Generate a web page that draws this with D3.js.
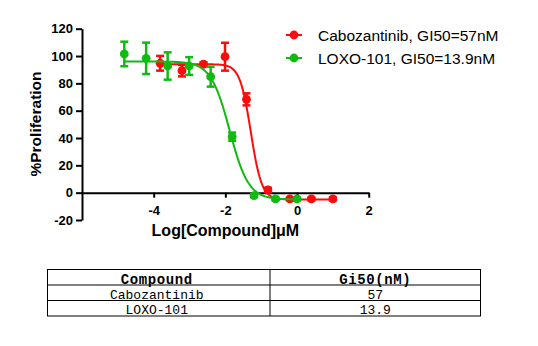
<!DOCTYPE html>
<html><head><meta charset="utf-8">
<script src="https://cdn.jsdelivr.net/npm/d3@7"></script>
<style>body{margin:0;background:#fff}svg{display:block}</style>
</head><body><svg id="c" width="538" height="346"></svg>
<script>
// ---- data ----
const redName = "Cabozantinib, GI50=57nM";
const greenName = "LOXO-101, GI50=13.9nM";
const redX = [-3.82, -3.21, -2.61, -2.01, -1.41, -0.81, -0.20, 0.40, 1.00];
const redY = [94.7, 89.3, 94.0, 99.5, 68.3, 2.0, -4.6, -4.6, -4.6];
const redErr = [5.4, 4.2, 1.5, 10.2, 4.4, 1.5, 1.0, 1.0, 1.0];
const greenX = [-4.82, -4.21, -3.61, -3.01, -2.41, -1.81, -1.20, -0.60, 0.00];
const greenY = [101.5, 98.3, 92.7, 92.7, 84.9, 41.0, -2.2, -4.6, -4.6];
const greenErr = [9.0, 11.5, 10.0, 6.5, 7.3, 3.0, 1.0, 1.0, 1.0];
// fitted 4-parameter curves: [top, bottom, logGI50, hill]
const redFit = [94, -5, -1.29, 2.85];
const greenFit = [96, -5, -1.88, 1.65];
const xTicks = [-4, -2, 0, 2];
const yTicks = [-20, 0, 20, 40, 60, 80, 100, 120];
const tableHeader = ["Compound", "Gi50(nM)"];
const tableCompounds = ["Cabozantinib", "LOXO-101"];
const tableGi50 = ["57", "13.9"];

const svg = d3.select("#c");
const x = d3.scaleLinear().domain([-6, 2]).range([82, 368.7]);
const y = d3.scaleLinear().domain([-20, 120]).range([220, 28.7]);
const font = "'Liberation Sans', Arial, sans-serif";

// axes
const gx = svg.append("g").attr("transform", `translate(0,${y(0)})`)
  .call(d3.axisBottom(x).tickValues(xTicks).tickFormat(d => String(d)).tickSize(5).tickSizeOuter(0).tickPadding(8));
const gy = svg.append("g").attr("transform", `translate(${x(-6)},0)`)
  .call(d3.axisLeft(y).tickValues(yTicks).tickFormat(d => String(d)).tickSize(6).tickSizeOuter(0).tickPadding(3));
[gx, gy].forEach(g => {
  g.select(".domain").attr("stroke", "#000").attr("stroke-width", 2);
  g.selectAll(".tick line").attr("stroke", "#000").attr("stroke-width", 2);
  g.selectAll(".tick text").attr("font-family", font).attr("font-weight", "bold").attr("font-size", 13).attr("fill", "#000");
});

svg.append("text").attr("x", x(-2)).attr("y", 236).attr("text-anchor", "middle")
  .attr("font-family", font).attr("font-weight", "bold").attr("font-size", 16).text("Log[Compound]μM");
svg.append("text").attr("transform", "translate(41,124) rotate(-90)").attr("text-anchor", "middle")
  .attr("font-family", font).attr("font-weight", "bold").attr("font-size", 15.5).text("%Proliferation");

function drawSeries(xs, ys, es, fit, color) {
  const [top, bot, lc, h] = fit;
  const f = v => bot + (top - bot) / (1 + Math.pow(10, (v - lc) * h));
  const x0 = d3.min(xs), x1 = d3.max(xs);
  const pts = d3.range(0, 201).map(i => x0 + (x1 - x0) * i / 200);
  svg.append("path").datum(pts).attr("fill", "none").attr("stroke", color).attr("stroke-width", 2)
    .attr("d", d3.line().x(v => x(v)).y(v => y(f(v))));
  const g = svg.append("g").attr("stroke", color).attr("stroke-width", 2.5);
  xs.forEach((v, i) => {
    const cx = x(v), t = y(ys[i] + es[i]), b = y(ys[i] - es[i]);
    g.append("line").attr("x1", cx).attr("x2", cx).attr("y1", t).attr("y2", b);
    g.append("line").attr("x1", cx - 4).attr("x2", cx + 4).attr("y1", t).attr("y2", t);
    g.append("line").attr("x1", cx - 4).attr("x2", cx + 4).attr("y1", b).attr("y2", b);
  });
  svg.append("g").selectAll("circle").data(xs).join("circle")
    .attr("cx", v => x(v)).attr("cy", (v, i) => y(ys[i])).attr("r", 4.4).attr("fill", color);
}
const RED = "#ff0a0a", GREEN = "#10bb10";
drawSeries(redX, redY, redErr, redFit, RED);
drawSeries(greenX, greenY, greenErr, greenFit, GREEN);

// legend
[[redName, RED, 35], [greenName, GREEN, 58]].forEach(([t, c, ly]) => {
  svg.append("line").attr("x1", 286).attr("x2", 302).attr("y1", ly).attr("y2", ly).attr("stroke", c).attr("stroke-width", 2);
  svg.append("circle").attr("cx", 294).attr("cy", ly).attr("r", 4.4).attr("fill", c);
  svg.append("text").attr("x", 318).attr("y", ly).attr("dy", "0.36em").attr("font-family", font).attr("font-size", 15.5).attr("fill", "#000").text(t);
});

// table
const tx = [47.5, 270, 480.5];
const ty = [269.5, 285, 300.5, 316];
const tg = svg.append("g");
tg.append("rect").attr("x", tx[0]).attr("y", ty[0]).attr("width", tx[2] - tx[0]).attr("height", ty[3] - ty[0])
  .attr("fill", "none").attr("stroke", "#000").attr("stroke-width", 1);
[ty[1], ty[2]].forEach(v => tg.append("line").attr("x1", tx[0]).attr("x2", tx[2]).attr("y1", v).attr("y2", v).attr("stroke", "#000"));
tg.append("line").attr("x1", tx[1]).attr("x2", tx[1]).attr("y1", ty[0]).attr("y2", ty[3]).attr("stroke", "#000");
const mono = "'Liberation Mono', 'DejaVu Sans Mono', monospace";
const colC = [(tx[0] + tx[1]) / 2 - 2, (tx[1] + tx[2]) / 2];
tableHeader.forEach((t, j) => tg.append("text").attr("x", colC[j]).attr("y", (ty[0] + ty[1]) / 2 + 2).attr("dy", "0.35em")
  .attr("text-anchor", "middle").attr("font-family", mono).attr("font-weight", "bold").attr("font-size", 14)
  .attr("letter-spacing", 0.6).text(t));
tableCompounds.forEach((t, i) => {
  const cy = (ty[i + 1] + ty[i + 2]) / 2 + 1.5;
  tg.append("text").attr("x", colC[0]).attr("y", cy).attr("dy", "0.35em").attr("text-anchor", "middle")
    .attr("font-family", mono).attr("font-size", 13).text(t);
  tg.append("text").attr("x", colC[1]).attr("y", cy).attr("dy", "0.35em").attr("text-anchor", "middle")
    .attr("font-family", mono).attr("font-size", 13).text(tableGi50[i]);
});
</script></body></html>
